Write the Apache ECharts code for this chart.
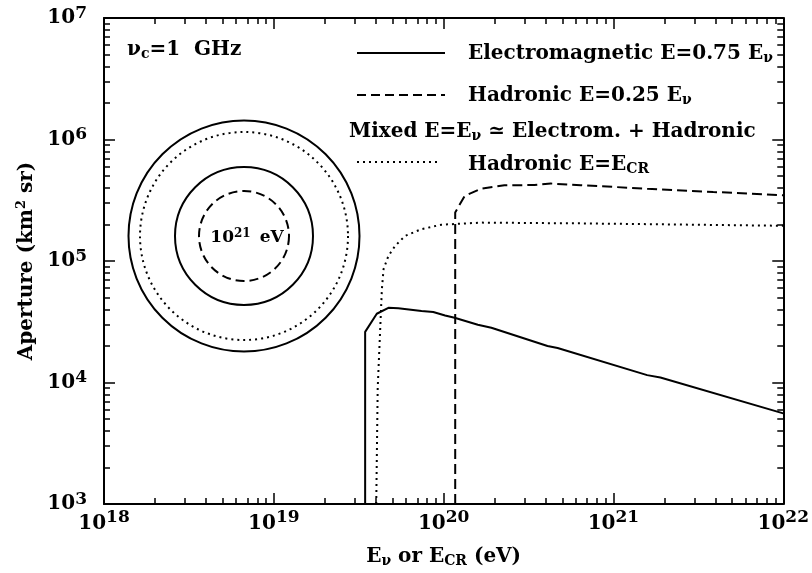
<!DOCTYPE html>
<html>
<head>
<meta charset="utf-8">
<script src="https://cdn.jsdelivr.net/npm/echarts@6/dist/echarts.min.js"></script>
<style>
html, body { margin: 0; padding: 0; background: #fff; }
#chart { width: 812px; height: 573px; }
</style>
</head>
<body>
<div id="chart"></div>
<script>
// energies in eV, apertures in km^2 sr
const emEnergy = [3.45e19, 3.45e19, 4.04e19, 4.73e19, 5.41e19, 7.41e19, 8.69e19, 1.02e20, 1.16e20, 1.59e20, 1.91e20, 4.09e20, 4.69e20, 1.58e21, 1.89e21, 1e22];
const emAperture = [1e3, 2.61e4, 3.68e4, 4.12e4, 4.09e4, 3.87e4, 3.80e4, 3.56e4, 3.41e4, 2.99e4, 2.82e4, 2.00e4, 1.92e4, 1.15e4, 1.10e4, 5.57e3];

const hadEnergy = [1.17e20, 1.17e20, 1.33e20, 1.66e20, 2.28e20, 3.42e20, 4.28e20, 6.41e20, 1.58e21, 3.87e21, 1e22];
const hadAperture = [1e3, 2.51e5, 3.43e5, 3.94e5, 4.20e5, 4.22e5, 4.34e5, 4.20e5, 3.94e5, 3.70e5, 3.48e5];

const crEnergy = [4.01e19, 4.09e19, 4.33e19, 4.43e19, 4.73e19, 5.18e19, 5.93e19, 7.41e19, 9.70e19, 1.66e20, 6.41e20, 1e22];
const crAperture = [1e3, 8.93e3, 5.89e4, 8.59e4, 1.10e5, 1.33e5, 1.61e5, 1.83e5, 1.99e5, 2.07e5, 2.04e5, 1.95e5];

const xDecades = [18, 19, 20, 21, 22];
const yDecades = [3, 4, 5, 6, 7];

const FONT = 'DejaVu Serif';

const zip = (a, b) => a.map((v, i) => [v, b[i]]);

// minor ticks at 2..9 of every decade, given as exponents for a linear helper axis
const minorTicks = (decades) => {
  const out = [];
  for (let i = 0; i < decades.length - 1; i++) {
    for (let m = 2; m <= 9; m++) out.push(decades[i] + Math.log10(m));
  }
  return out;
};

const expLabel = (v) => '{b|10}{s|' + Math.round(Math.log10(v)) + '}';

const labelRich = (raise) => ({
  b: { fontSize: 20, fontFamily: FONT, fontWeight: 'bold', color: '#000' },
  s: { fontSize: 17, fontFamily: FONT, fontWeight: 'bold', color: '#000', padding: [0, 0, raise, 0] }
});

const frame = { show: true, onZero: false, lineStyle: { color: '#000', width: 2 } };
const tickStyle = { color: '#000', width: 1.5 };

const majorAxis = (pos, min, max, labels, margin, raise) => ({
  type: 'log', logBase: 10, min: min, max: max, position: pos,
  axisLine: frame,
  axisTick: { show: true, inside: true, length: 11, lineStyle: tickStyle },
  axisLabel: labels
    ? { show: true, margin: margin, formatter: expLabel, rich: labelRich(raise), showMinLabel: true, showMaxLabel: true }
    : { show: false },
  splitLine: { show: false }
});

// linear axis over the exponents, only used to place the minor ticks
const minorAxis = (pos, decades) => ({
  type: 'value', min: decades[0], max: decades[decades.length - 1], position: pos,
  axisLine: { show: false },
  axisTick: { show: true, inside: true, length: 6, lineStyle: tickStyle, customValues: minorTicks(decades) },
  axisLabel: { show: false },
  splitLine: { show: false }
});

const xAxes = [
  majorAxis('bottom', 1e18, 1e22, true, 5, 12),
  minorAxis('bottom', xDecades),
  majorAxis('top', 1e18, 1e22, false),
  minorAxis('top', xDecades)
];
xAxes[0].name = '{t|E}{u|ν}{t| or E}{u|CR}{t| (eV)}';
xAxes[0].nameLocation = 'middle';
xAxes[0].nameGap = 42;
xAxes[0].nameTextStyle = {
  rich: {
    t: { fontSize: 20, fontFamily: FONT, fontWeight: 'bold', color: '#000' },
    u: { fontSize: 14, fontFamily: FONT, fontWeight: 'bold', color: '#000', padding: [8, 0, 0, 0] }
  }
};

const yAxes = [
  majorAxis('left', 1e3, 1e7, true, 17, 9),
  minorAxis('left', yDecades),
  majorAxis('right', 1e3, 1e7, false),
  minorAxis('right', yDecades)
];
yAxes[0].name = '{t|Aperture (km}{s|2}{t| sr)}';
yAxes[0].nameLocation = 'middle';
yAxes[0].nameGap = 66;
yAxes[0].nameTextStyle = {
  rich: {
    t: { fontSize: 20, fontFamily: FONT, fontWeight: 'bold', color: '#000' },
    s: { fontSize: 13, fontFamily: FONT, fontWeight: 'bold', color: '#000', padding: [0, 0, 9, 0] }
  }
};

const txt = { fontFamily: FONT, fontWeight: 'bold', fill: '#000', fontSize: 20 };
const subRich = {
  t: { fontSize: 20, fontFamily: FONT, fontWeight: 'bold', color: '#000' },
  u: { fontSize: 14, fontFamily: FONT, fontWeight: 'bold', color: '#000', padding: [9, 0, 0, 0] }
};

const legendLine = (y, x2, dash) => ({
  type: 'line',
  shape: { x1: 357, y1: y, x2: x2, y2: y },
  style: { stroke: '#000', lineWidth: 2, lineDash: dash }
});
const legendText = (x, y, text) => ({
  type: 'text', x: x, y: y,
  style: Object.assign({ text: text, verticalAlign: 'middle', align: 'left', rich: subRich }, txt)
});
const ring = (r, dash) => ({
  type: 'circle',
  shape: { cx: 244, cy: 236, r: r },
  style: { fill: 'none', stroke: '#000', lineWidth: 2, lineDash: dash }
});

const graphics = [
  legendText(127, 50, '{t|ν}{u|c}{t|=1  GHz}'),
  legendLine(53, 445, null),
  legendText(468, 54, '{t|Electromagnetic E=0.75 E}{u|ν}'),
  legendLine(95, 445, [9, 5]),
  legendText(468, 96, '{t|Hadronic E=0.25 E}{u|ν}'),
  legendText(349, 132, '{t|Mixed E=E}{u|ν}{t| ≃ Electrom. + Hadronic}'),
  legendLine(162, 440, [2, 4]),
  legendText(468, 165, '{t|Hadronic E=E}{u|CR}'),
  ring(115.5, null),
  ring(104, [2, 4]),
  ring(69, null),
  ring(45, [9, 5]),
  {
    type: 'text', x: 247, y: 238,
    style: Object.assign({}, txt, {
      text: '{t|10}{p|21}{t| eV}', align: 'center', verticalAlign: 'middle',
      rich: {
        t: { fontSize: 17, fontFamily: FONT, fontWeight: 'bold', color: '#000' },
        p: { fontSize: 12, fontFamily: FONT, fontWeight: 'bold', color: '#000', padding: [0, 3, 8, 0] }
      }
    })
  }
];

const lineSeries = (data, dash) => ({
  type: 'line',
  xAxisIndex: 0,
  yAxisIndex: 0,
  data: data,
  showSymbol: false,
  symbol: 'none',
  clip: true,
  lineStyle: { color: '#000', width: 2, type: dash }
});

const option = {
  backgroundColor: '#fff',
  animation: false,
  grid: { left: 104, right: 25, top: 18, bottom: 67, containLabel: false },
  xAxis: xAxes,
  yAxis: yAxes,
  graphic: graphics,
  series: [
    lineSeries(zip(emEnergy, emAperture), 'solid'),
    lineSeries(zip(hadEnergy, hadAperture), [10, 5]),
    lineSeries(zip(crEnergy, crAperture), [2, 4])
  ]
};

const chart = echarts.init(document.getElementById('chart'));
chart.setOption(option);
</script>
</body>
</html>
